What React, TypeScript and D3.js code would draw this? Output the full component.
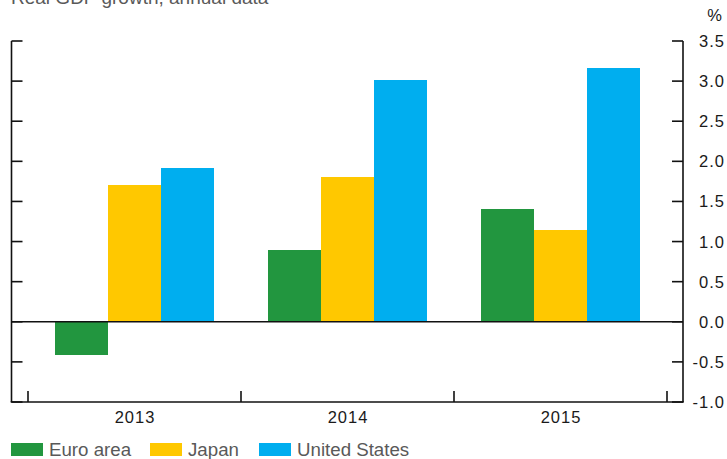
import React from "react";
import * as d3 from "d3";

const categories = ["2013", "2014", "2015"];
const seriesNames = ["Euro area", "Japan", "United States"];
const euroArea = [-0.42, 0.9, 1.4];
const japan = [1.7, 1.8, 1.15];
const unitedStates = [1.92, 3.02, 3.16];
const seriesColors = ["#22963F", "#FFC800", "#00AEEF"];
const yTicks = [-1.0, -0.5, 0.0, 0.5, 1.0, 1.5, 2.0, 2.5, 3.0, 3.5];
const title = "Real GDP growth, annual data";

const W = 727;
const H = 459;
const left = 11.5;
const right = 683;
const top = 41;
const bottom = 402;

export default function App() {
  const seriesValues = [euroArea, japan, unitedStates];
  const y = d3.scaleLinear().domain([-1, 3.5]).range([bottom, top]);
  const x0 = d3.scaleBand<string>().domain(categories).range([28, 667]).paddingInner(0).paddingOuter(0);
  const x1 = d3.scaleBand<string>().domain(seriesNames).range([0, x0.bandwidth()]).paddingInner(0).paddingOuter(0.5);
  const font = "'Liberation Sans', Arial, Helvetica, sans-serif";
  const sepTicks = [28, ...categories.map((c) => (x0(c) as number) + x0.bandwidth())];
  const legendX = [11, 150, 259];

  return (
    <svg width={W} height={H} style={{ position: "absolute", left: 0, top: 0 }} fontFamily={font}>
      <text x={11} y={4} fontSize={19} fill="#595959">{title}</text>
      <text x={722} y={21} fontSize={16.5} fill="#1a1a1a" textAnchor="end">%</text>
      {categories.map((c, ci) =>
        seriesNames.map((s, si) => {
          const v = seriesValues[si][ci];
          const bx = (x0(c) as number) + (x1(s) as number);
          return (
            <rect
              key={c + s}
              x={bx}
              y={Math.min(y(v), y(0))}
              width={x1.bandwidth()}
              height={Math.abs(y(v) - y(0))}
              fill={seriesColors[si]}
              shapeRendering="crispEdges"
            />
          );
        })
      )}
      <line x1={left} x2={left} y1={top} y2={bottom} stroke="#111" strokeWidth={1.6} />
      <line x1={right} x2={right} y1={top} y2={bottom} stroke="#111" strokeWidth={1.6} />
      <line x1={left - 0.8} x2={right + 0.8} y1={bottom} y2={bottom} stroke="#111" strokeWidth={1.6} />
      <line x1={left} x2={right} y1={y(0)} y2={y(0)} stroke="#111" strokeWidth={1.6} />
      {yTicks.map((t) => (
        <g key={t}>
          <line x1={left} x2={left + 11} y1={y(t)} y2={y(t)} stroke="#111" strokeWidth={1.6} />
          <line x1={right - 11} x2={right} y1={y(t)} y2={y(t)} stroke="#111" strokeWidth={1.6} />
          <text x={725} y={y(t) + 6} fontSize={16.5} letterSpacing={1.0} textAnchor="end" fill="#1a1a1a">{t.toFixed(1)}</text>
        </g>
      ))}
      {sepTicks.map((sx) => (
        <line key={sx} x1={sx} x2={sx} y1={bottom} y2={bottom - 11} stroke="#111" strokeWidth={1.6} />
      ))}
      {categories.map((c) => (
        <text key={c} x={(x0(c) as number) + x0.bandwidth() / 2 + 0.5} y={423} fontSize={16.5} letterSpacing={1} fill="#1a1a1a" textAnchor="middle">
          {c}
        </text>
      ))}
      {seriesNames.map((s, i) => (
        <g key={s}>
          <rect x={legendX[i]} y={443} width={32} height={13} fill={seriesColors[i]} />
          <text x={legendX[i] + 38} y={456} fontSize={18.7} fill="#595959">{s}</text>
        </g>
      ))}
    </svg>
  );
}
